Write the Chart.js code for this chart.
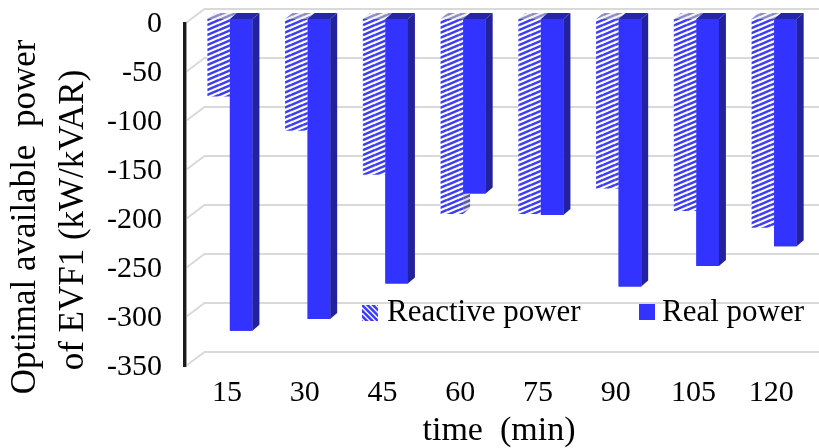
<!DOCTYPE html>
<html>
<head>
<meta charset="utf-8">
<script src="https://cdn.jsdelivr.net/npm/chart.js@4.4.0/dist/chart.umd.min.js"></script>
<style>
    html, body { margin: 0; padding: 0; background: #fff; }
</style>
</head>
<body>
<canvas id="evfChart" width="819" height="448"></canvas>
<script>
const minutes = ['15', '30', '45', '60', '75', '90', '105', '120']
const reactivePower = [-79, -114, -159, -199, -199, -173, -196, -213]
const realPower = [-318, -306, -270, -178, -200, -273, -252, -232]
const yTitleLines = ['Optimal available  power', 'of EVF1 (kW/kVAR)']
const xTitle = 'time  (min)'
const seriesNames = ['Reactive power', 'Real power']

const serif = "'Liberation Serif', 'Times New Roman', serif"
const blue = '#3333ff'
const blueSide = '#2222a0'
const blueTop = '#2626aa'

// depth of the fake 3d: how far the back plane sits right/up of the front
const depthX = 7
const depthY = 6
const wallX = 20
const wallY = 15

const makeHatch = (stripe, bg) => {
    let c = document.createElement('canvas')
    c.width = 12
    c.height = 5
    let g = c.getContext('2d')
    g.fillStyle = bg
    g.fillRect(0, 0, 12, 5)
    g.strokeStyle = stripe
    g.lineWidth = 2.5
    for (let k = -1; k <= 1; k++) {
        g.beginPath()
        g.moveTo(0, 5 + k * 5)
        g.lineTo(12, k * 5)
        g.stroke()
    }
    return g.createPattern(c, 'repeat')
}

const hatchFront = makeHatch('#3c3cff', '#ffffff')
const hatchSide = makeHatch('#5a5a9a', '#d8d8e8')
const hatchTop = makeHatch('#8c8cc8', '#f2f2f2')

const drawFaces = (ctx, bar, sideFill, topFill) => {
    const {x, y, base, width} = bar.getProps(['x', 'y', 'base', 'width'])
    const left = x - width / 2
    const right = x + width / 2
    const top = Math.min(y, base)
    const bottom = Math.max(y, base)

    ctx.fillStyle = sideFill
    ctx.beginPath()
    ctx.moveTo(right, top)
    ctx.lineTo(right + depthX, top - depthY)
    ctx.lineTo(right + depthX, bottom - depthY)
    ctx.lineTo(right, bottom)
    ctx.closePath()
    ctx.fill()

    ctx.fillStyle = topFill
    ctx.beginPath()
    ctx.moveTo(left, top)
    ctx.lineTo(left + depthX, top - depthY)
    ctx.lineTo(right + depthX, top - depthY)
    ctx.lineTo(right, top)
    ctx.closePath()
    ctx.fill()
}

const wallAndBars = {
    id: 'wallAndBars',
    beforeDatasetsDraw(chart) {
        const ctx = chart.ctx
        const yScale = chart.scales.y
        const axisX = chart.chartArea.left - 3.5

        // gridlines running back onto the wall
        ctx.save()
        ctx.strokeStyle = '#d9d9d9'
        ctx.lineWidth = 2
        yScale.ticks.forEach(t => {
            const py = yScale.getPixelForValue(t.value)
            ctx.beginPath()
            ctx.moveTo(axisX, py)
            ctx.lineTo(axisX + wallX, py - wallY)
            ctx.lineTo(chart.width, py - wallY)
            ctx.stroke()
        })

        // value axis
        const y0 = yScale.getPixelForValue(0) - 2
        const y1 = yScale.getPixelForValue(-350)
        ctx.strokeStyle = '#9a9a9a'
        ctx.lineWidth = 1
        ctx.beginPath()
        ctx.moveTo(axisX + 2, y0)
        ctx.lineTo(axisX + 2, y1)
        ctx.stroke()
        ctx.strokeStyle = '#1a1a1a'
        ctx.lineWidth = 3
        ctx.beginPath()
        ctx.moveTo(axisX, y0)
        ctx.lineTo(axisX, y1)
        ctx.stroke()
        ctx.restore()

        ctx.save()
        ctx.translate(3, -5)
    },
    afterDatasetsDraw(chart) {
        const ctx = chart.ctx
        chart.getDatasetMeta(0).data.forEach(bar => drawFaces(ctx, bar, hatchSide, hatchTop))
        chart.getDatasetMeta(1).data.forEach(bar => {
            bar.draw(ctx)
            drawFaces(ctx, bar, blueSide, blueTop)
        })
        ctx.restore()
    },
    afterDraw(chart) {
        const ctx = chart.ctx
        ctx.save()
        ctx.fillStyle = '#000'
        ctx.font = `35px ${serif}`
        ctx.textAlign = 'center'
        ctx.textBaseline = 'middle'
        const titlePos = [[26, 217], [74, 220]]
        yTitleLines.forEach((line, i) => {
            ctx.save()
            ctx.translate(titlePos[i][0], titlePos[i][1])
            ctx.rotate(-Math.PI / 2)
            ctx.fillText(line, 0, 0)
            ctx.restore()
        })

        // legend inside the plot
        const items = [
            {x: 362, text: 387},
            {x: 639, text: 662},
        ]
        ctx.font = `31px ${serif}`
        ctx.textAlign = 'left'
        ctx.textBaseline = 'alphabetic'
        items.forEach((item, i) => {
            const ds = chart.data.datasets[i]
            if (i == 0) {
                ctx.save()
                ctx.beginPath()
                ctx.rect(item.x, 305, 16, 16)
                ctx.clip()
                ctx.fillStyle = '#fff'
                ctx.fillRect(item.x, 305, 16, 16)
                ctx.strokeStyle = '#3c3cff'
                ctx.lineWidth = 2.6
                for (let k = -3; k <= 3; k++) {
                    ctx.beginPath()
                    ctx.moveTo(item.x + k * 5.5 - 2, 303)
                    ctx.lineTo(item.x + k * 5.5 + 18, 323)
                    ctx.stroke()
                }
                ctx.restore()
            } else {
                ctx.fillStyle = blue
                ctx.fillRect(item.x, 304, 16, 16)
            }
            ctx.fillStyle = '#000'
            ctx.fillText(ds.label, item.text, 321)
        })
        ctx.restore()
    }
}

new Chart(document.getElementById('evfChart'), {
    type: 'bar',
    data: {
        labels: minutes,
        datasets: [
            {
                label: seriesNames[0],
                data: reactivePower,
                backgroundColor: hatchFront,
                borderWidth: 0,
                clip: false,
            },
            {
                label: seriesNames[1],
                data: realPower,
                backgroundColor: blue,
                borderWidth: 0,
                clip: false,
            },
        ]
    },
    options: {
        responsive: false,
        animation: false,
        layout: {
            padding: {top: 24, right: 9, left: 0, bottom: 0}
        },
        datasets: {
            bar: {
                categoryPercentage: 0.58,
                barPercentage: 1,
            }
        },
        plugins: {
            legend: {display: false},
            tooltip: {enabled: false},
        },
        scales: {
            x: {
                grid: {display: false, drawTicks: false},
                border: {display: false},
                ticks: {
                    color: '#000',
                    font: {family: serif, size: 30},
                    padding: 8,
                },
                title: {
                    display: true,
                    text: xTitle,
                    color: '#000',
                    font: {family: serif, size: 34, lineHeight: 1},
                    padding: 0,
                },
                afterFit: scale => {
                    scale.height = 81
                    scale.paddingLeft = 0
                    scale.paddingRight = 0
                },
            },
            y: {
                min: -350,
                max: 0,
                grid: {display: false, drawTicks: false},
                border: {display: false},
                ticks: {
                    stepSize: 50,
                    color: '#000',
                    font: {family: serif, size: 30},
                    padding: 26,
                },
                afterFit: scale => {
                    scale.width = 188
                    scale.paddingTop = 0
                    scale.paddingBottom = 0
                },
            }
        }
    },
    plugins: [wallAndBars]
})
</script>
</body>
</html>
